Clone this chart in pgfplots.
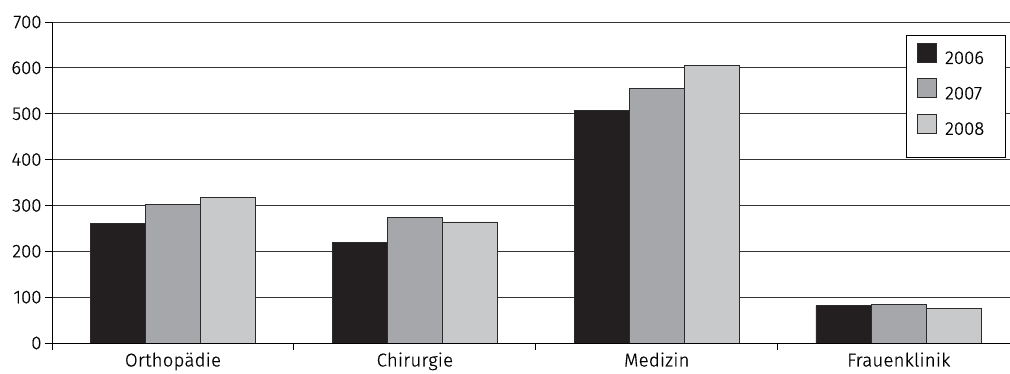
\documentclass[border=0pt]{standalone}
\usepackage{fontspec}
\setmainfont{Fira Sans Light}[FakeBold=0.6]
\newfontfamily\catfont{Fira Sans Light}[LetterSpace=1.5,FakeBold=0.6]
\usepackage{pgfplots}
\pgfplotsset{compat=1.18}

\definecolor{bardark}{HTML}{231F20}
\definecolor{barmid}{HTML}{A6A7AA}
\definecolor{barlight}{HTML}{C8C9CB}
\definecolor{edge}{HTML}{2B2B2B}

\begin{document}
\begin{tikzpicture}
\begin{axis}[
  at={(0,0)}, anchor=south west,
  scale only axis,
  width=958pt, height=321pt,
  font=\fontsize{18.5}{21}\selectfont,
  tick label style={font=\fontsize{18.5}{21}\selectfont},
  ybar, bar width=0.228,
  xmin=-0.5, xmax=3.46,
  ymin=0, ymax=700,
  ytick={0,100,...,700},
  ymajorgrids,
  grid style={draw=black!80, line width=0.8pt},
  axis x line*=bottom, axis y line*=left,
  axis line style={black, line width=0.9pt},
  tick align=outside,
  major tick length=7pt,
  tick style={black, line width=0.9pt},
  xtick={-0.5,0.5,1.5,2.5},
  xticklabels={},
  extra x ticks={0,1,2,3},
  extra x tick labels={Orthopädie,Chirurgie,Medizin,Frauenklinik},
  extra x tick style={major tick length=0pt, grid=none,
    tick label style={yshift=-6pt, font=\catfont\fontsize{18.5}{21}\selectfont}},
  yticklabel style={xshift=0pt},
  /pgf/number format/assume math mode=true,
  legend cell align=left,
  legend style={at={(0.903,0.935)}, anchor=north west,
    draw=none, fill=none, inner sep=0pt, column sep=6pt,
    row sep=11pt, font=\fontsize{18.5}{21}\selectfont},
  legend image code/.code={\draw[#1, line width=0.8pt] (0pt,-4pt) rectangle (19pt,15pt);},
]
\addplot[fill=bardark, draw=edge, line width=0.8pt, bar shift=-0.228]
  coordinates {(0,260) (1,220) (2,507) (3,81)};
\addplot[fill=barmid, draw=edge, line width=0.8pt, bar shift=0]
  coordinates {(0,303) (1,273) (2,556) (3,85)};
\addplot[fill=barlight, draw=edge, line width=0.8pt, bar shift=0.228]
  coordinates {(0,318) (1,264) (2,606) (3,75)};
\legend{2006,2007,2008}
% legend frame
\draw[black, line width=0.8pt, fill=white]
  (rel axis cs:0.8914,0.5794) rectangle (rel axis cs:0.9948,0.9595);
\end{axis}
\pgfresetboundingbox
\path[use as bounding box] (-52pt,-31pt) rectangle (958pt,343pt);
\end{tikzpicture}
\end{document}
